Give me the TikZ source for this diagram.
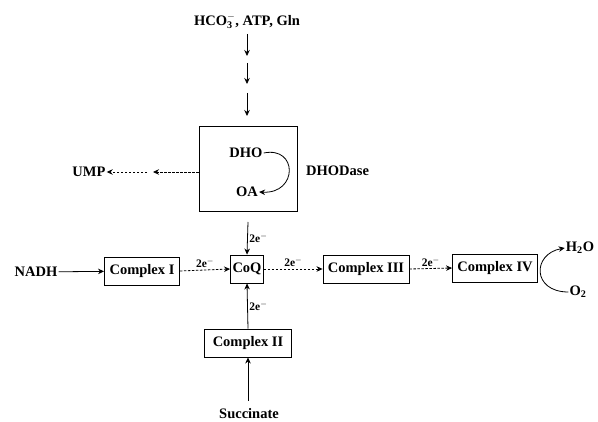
\documentclass[tikz,border=0pt]{standalone}
\usepackage{fontspec}
\setmainfont{Liberation Serif}
\usetikzlibrary{arrows.meta}
\begin{document}
\begin{tikzpicture}[x=1pt,y=-1pt,
  txt/.style={inner sep=1pt,font=\fontsize{14.5}{16}\selectfont\bfseries},
  cbox/.style={draw,line width=0.9pt,inner xsep=2pt,inner ysep=2pt,minimum height=28,font=\fontsize{14.5}{16}\selectfont\bfseries},
  arr/.style={-{Stealth[length=6pt,width=5.5pt]},line width=0.8pt},
  dsh/.style={arr,dash pattern=on 2.5pt off 1.5pt},
  elab/.style={inner sep=1.5pt,font=\fontsize{11.5}{12}\selectfont\bfseries}]
\useasboundingbox (0,0) rectangle (598,422);
% top
\node[txt] (src) at (247,21) {HCO$_\mathbf{3}^\mathbf{-}$, ATP, Gln};
\coordinate (a1s) at (247,34);
\coordinate (a1) at (247,56);
\coordinate (a2s) at (247,63);
\coordinate (a2) at (247,84);
\coordinate (a3s) at (247,93);
\coordinate (a3) at (247,116);
\draw[arr] (a1s) -- (a1);
\draw[arr] (a2s) -- (a2);
\draw[arr] (a3s) -- (a3);
% DHODase box
\node[draw,line width=0.9pt,minimum width=98,minimum height=85] (box) at (248,168.5) {};
\node[txt] (dho) at (246,153) {DHO};
\node[txt] (oa) at (247,192) {OA};
\draw[arr] (dho.east) .. controls (298,146) and (298,194) .. (oa.east);
\node[txt,anchor=west] (dhodase) at (305,171) {DHODase};
% UMP
\node[txt] (ump) at (89,172) {UMP};
\coordinate (m1) at (153,172);
\coordinate (m2) at (147,172);
\draw[dsh] (box.west |- 0,172) -- (m1);
\draw[dsh] (m2) -- (ump.east);
% chain
\node[txt] (nadh) at (36,272) {NADH};
\node[cbox,minimum width=75] (c1) at (142,271) {Complex I};
\node[cbox,minimum width=32] (coq) at (247,269) {CoQ};
\node[cbox,minimum width=86] (c3) at (366,269) {Complex III};
\node[cbox,minimum width=85] (c4) at (495,268) {Complex IV};
\node[cbox,minimum width=87] (c2) at (248,343) {Complex II};
\node[txt] (succ) at (249,414) {Succinate};
\node[txt] (h2o) at (580,248) {H$_\mathbf{2}$O};
\node[txt] (o2) at (578,292) {O$_\mathbf{2}$};
\coordinate (b0) at (248,222);
\coordinate (s0) at (248,401);
\draw[arr] (nadh) -- (c1);
\draw[dsh] (c1.east) -- node[elab,above] {2e$^-$} (coq.west);
\draw[dsh] (coq.east) -- node[elab,above] {2e$^-$} (c3.west);
\draw[dsh] (c3.east) -- node[elab,above] {2e$^-$} (c4.west);
\draw[arr] (b0) -- node[elab,right] {2e$^-$} (coq.north);
\draw[arr] (c2.north) -- node[elab,right] {2e$^-$} (coq.south);
\draw[arr] (s0) -- (c2.south);
\draw[arr] (o2.west) .. controls (532,292) and (532,254) .. (h2o.west);
\end{tikzpicture}
\end{document}
